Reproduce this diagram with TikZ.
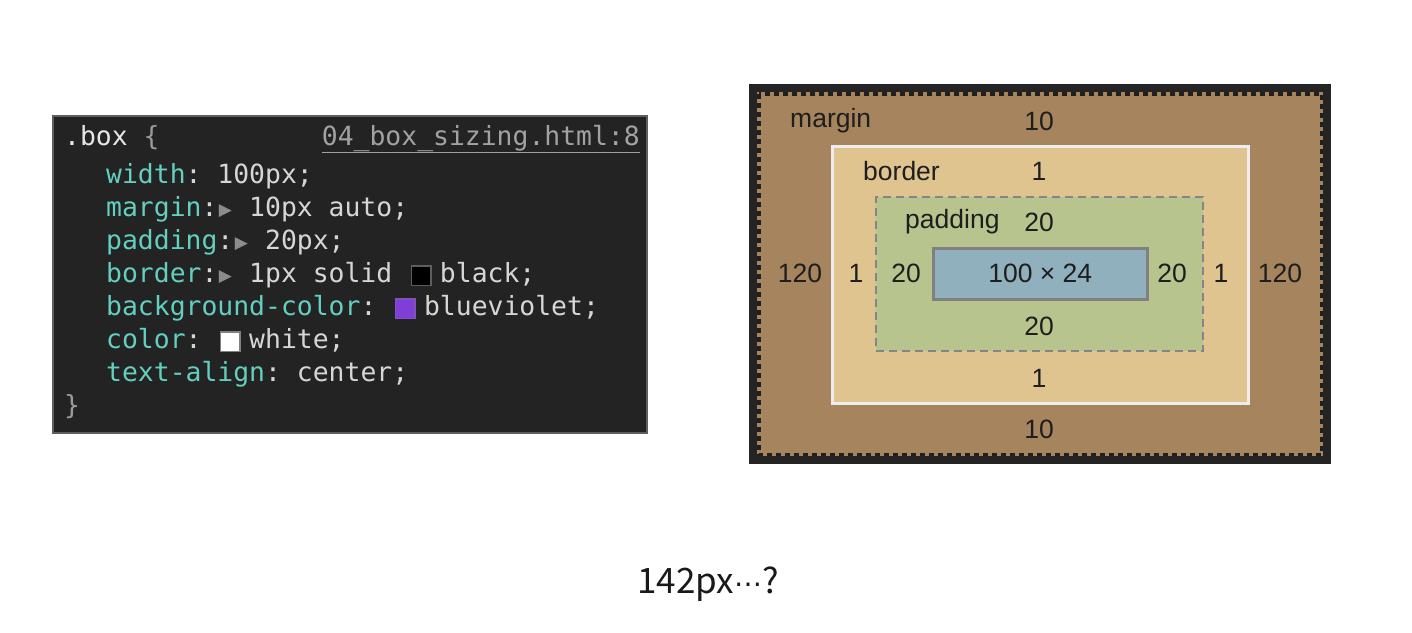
\documentclass[tikz,border=0pt]{standalone}
\usepackage{fontspec}
\usetikzlibrary{calc}
\setmainfont{Liberation Sans}
\setmonofont{DejaVu Sans Mono}
\newfontfamily\dvs{DejaVu Sans}
\newfontfamily\krfont{Noto Sans CJK KR}
\definecolor{codebg}{HTML}{232323}
\definecolor{codeframe}{HTML}{5E5E5E}
\definecolor{propc}{HTML}{63CFBF}
\definecolor{valc}{HTML}{D6D6D6}
\definecolor{selc}{HTML}{E6E6E6}
\definecolor{bracec}{HTML}{9A9A9A}
\definecolor{linkc}{HTML}{A2A2A2}
\definecolor{tric}{HTML}{8C8C8C}
\definecolor{bvc}{HTML}{7F3FD6}
\definecolor{marginc}{HTML}{A6845E}
\definecolor{borderc}{HTML}{DFC48F}
\definecolor{paddingc}{HTML}{B8C48D}
\definecolor{contentc}{HTML}{8FB0BC}
\definecolor{panelbg}{HTML}{242424}
\definecolor{labelc}{HTML}{1E1E1E}
\newcommand\prp[1]{\textcolor{propc}{#1}}
\newcommand\tri{\makebox[0.602em][c]{\raisebox{1pt}{\textcolor{tric}{\dvs\fontsize{17}{17}\selectfont ▶}}}}
\newcommand\swatch[2]{\makebox[1.204em][l]{\hspace{2.5pt}\raisebox{-0.1em}{\setlength\fboxsep{0pt}\setlength\fboxrule{1.5pt}\fcolorbox{#2}{#1}{\rule{0pt}{18pt}\rule{18pt}{0pt}}}}}
\begin{document}
\begin{tikzpicture}[x=1pt,y=-1pt,
  codeline/.style={anchor=base west,inner sep=0pt,font=\ttfamily\fontsize{26.4}{30}\selectfont,text=valc},
  lbl/.style={inner sep=0pt,text=labelc,font=\fontsize{26.5}{30}\selectfont}]
\useasboundingbox (0,0) rectangle (1412,632);
\fill[white] (0,0) rectangle (1412,632);
% code panel
\node[draw=codeframe,line width=2pt,fill=codebg,minimum width=594pt,minimum height=317pt,inner sep=0pt,anchor=north west] (codepanel) at (52,115) {};
\node[codeline] (l0) at (64,145) {\textcolor{selc}{.box} \textcolor{bracec}{\{}};
\node[codeline,anchor=base east] (link) at (640,145) {\textcolor{linkc}{\underline{04\_box\_sizing.html:8}}};
\node[codeline] (l1) at (106,183) {\prp{width}: 100px;};
\node[codeline] (l2) at (106,216) {\prp{margin}:\tri{} 10px auto;};
\node[codeline] (l3) at (106,249) {\prp{padding}:\tri{} 20px;};
\node[codeline] (l4) at (106,282) {\prp{border}:\tri{} 1px solid \swatch{black}{codeframe}black;};
\node[codeline] (l5) at (106,315) {\prp{background-color}: \swatch{bvc}{bvc!70!gray}blueviolet;};
\node[codeline] (l6) at (106,348) {\prp{color}: \swatch{white}{gray}white;};
\node[codeline] (l7) at (106,381) {\prp{text-align}: center;};
\node[codeline] (l8) at (64,414) {\textcolor{bracec}{\}}};
% box model panel
\node[fill=panelbg,minimum width=582pt,minimum height=380pt,inner sep=0pt,anchor=north west] (panel) at (749,84) {};
\node[fill=marginc,minimum width=566pt,minimum height=364pt,inner sep=0pt,anchor=north west] (marginbox) at (757,92) {};
\draw[panelbg!90!black,line width=3.5pt,dash pattern=on 5pt off 4pt] ($(marginbox.north west)+(1.75,1.75)$) rectangle ($(marginbox.south east)+(-1.75,-1.75)$);
\node[fill=borderc,draw=white!93!black,line width=2.5pt,minimum width=416pt,minimum height=257pt,inner sep=0pt,anchor=north west] (borderbox) at (831,145) {};
\node[fill=paddingc,draw=black!48,line width=2pt,dash pattern=on 8pt off 5pt,minimum width=327pt,minimum height=154pt,inner sep=0pt,anchor=north west] (paddingbox) at (875,196) {};
\node[fill=contentc,draw=black!50,line width=2.5pt,minimum width=214pt,minimum height=51pt,inner sep=0pt,anchor=north west] (contentbox) at (932,247) {};
\node[lbl] (tcontent) at (contentbox.center) {100 × 24};
\node[lbl,anchor=west] (tmargin) at (790,121) {margin};
\node[lbl] (mtop) at (1039,121) {10};
\node[lbl] (mbot) at (1039,429) {10};
\node[lbl] (mleft) at (800,273) {120};
\node[lbl] (mright) at (1280,273) {120};
\node[lbl,anchor=west] (tborder) at (863,171) {border};
\node[lbl] (btop) at (1039,171) {1};
\node[lbl] (bbot) at (1039,378) {1};
\node[lbl] (bleft) at (856,273) {1};
\node[lbl] (bright) at (1221,273) {1};
\node[lbl,anchor=west] (tpadding) at (905,222) {padding};
\node[lbl] (ptop) at (1039,222) {20};
\node[lbl] (pbot) at (1039,326) {20};
\node[lbl] (pleft) at (906,273) {20};
\node[lbl] (pright) at (1172,273) {20};
% caption
\node[inner sep=0pt,text=black!90,font=\krfont\fontsize{35}{38}\selectfont] (caption) at (708,584) {142px{\dvs\fontsize{28}{30}\selectfont ⋯}?};
\end{tikzpicture}
\end{document}
